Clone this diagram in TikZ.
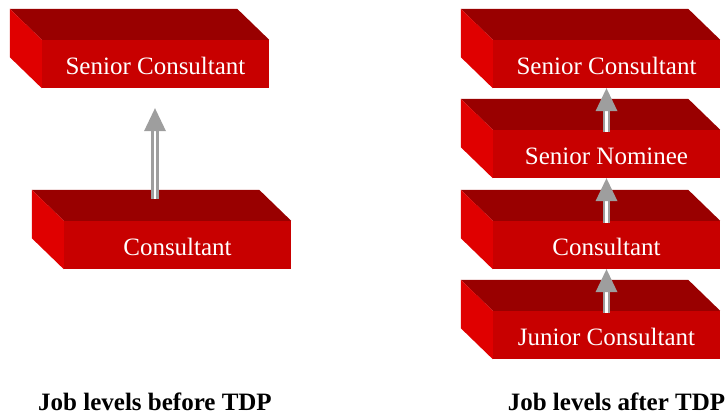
\documentclass[tikz,border=0pt]{standalone}
\usepackage{fontspec}
\setmainfont{Liberation Serif}
\usetikzlibrary{calc}
\definecolor{frontred}{RGB}{200,0,0}
\definecolor{topred}{RGB}{153,0,0}
\definecolor{sidered}{RGB}{224,0,0}
\definecolor{arrowgray}{RGB}{158,158,158}
\tikzset{
  front/.style={fill=frontred, minimum width=227pt, minimum height=48pt, inner sep=0pt,
    text=white, font=\fontsize{25}{30}\selectfont, text height=20pt, text depth=0pt},
  shaft/.style={draw=arrowgray, double=white, line width=2.6pt, double distance=2.4pt},
  head/.style={fill=arrowgray},
  caption/.style={font=\bfseries\fontsize{25}{30}\selectfont, anchor=base}
}
\newcommand\boxfaces[1]{%
  \fill[topred] (#1.north west) -- ++(-32,-31) -- ($(#1.north east)+(-32,-31)$) -- (#1.north east) -- cycle;
  \fill[sidered] (#1.north west) -- ++(-32,-31) -- ($(#1.south west)+(-32,-31)$) -- (#1.south west) -- cycle;
}
\newcommand\promote[2]{%
  \draw[shaft] (#1) -- ($(#2)+(0,22)$);
  \fill[head] (#2) -- ++(11,23) -- ++(-22,0) -- cycle;
}
\begin{document}
\begin{tikzpicture}[x=1pt,y=-1pt]
\useasboundingbox (0,0) rectangle (726,415);
% left column
\node[front] (sc1) at (155.5,64) {Senior Consultant};
\boxfaces{sc1}
\node[front] (c1) at (177.5,245) {Consultant};
\boxfaces{c1}
% right column
\node[front] (sc2) at (606.5,64) {Senior Consultant};
\boxfaces{sc2}
\node[front] (sn) at (606.5,154) {Senior Nominee};
\boxfaces{sn}
\node[front] (c2) at (606.5,245) {Consultant};
\boxfaces{c2}
\node[front] (jc) at (606.5,335) {Junior Consultant};
\boxfaces{jc}
% arrows
\coordinate (t1) at ($(sc1.south)+(-0.5,20)$);
\coordinate (b1) at ($(c1.north)+(-22.5,-22)$);
\promote{b1}{t1}
\coordinate (b2) at ($(sn.north)+(0,2)$);
\promote{b2}{sc2.south}
\coordinate (b3) at ($(c2.north)+(0,2)$);
\promote{b3}{sn.south}
\coordinate (b4) at ($(jc.north)+(0,2)$);
\promote{b4}{c2.south}
% captions
\node[caption] (cap1) at (155,410) {Job levels before TDP};
\node[caption] (cap2) at (616.5,410) {Job levels after TDP};
\end{tikzpicture}
\end{document}
